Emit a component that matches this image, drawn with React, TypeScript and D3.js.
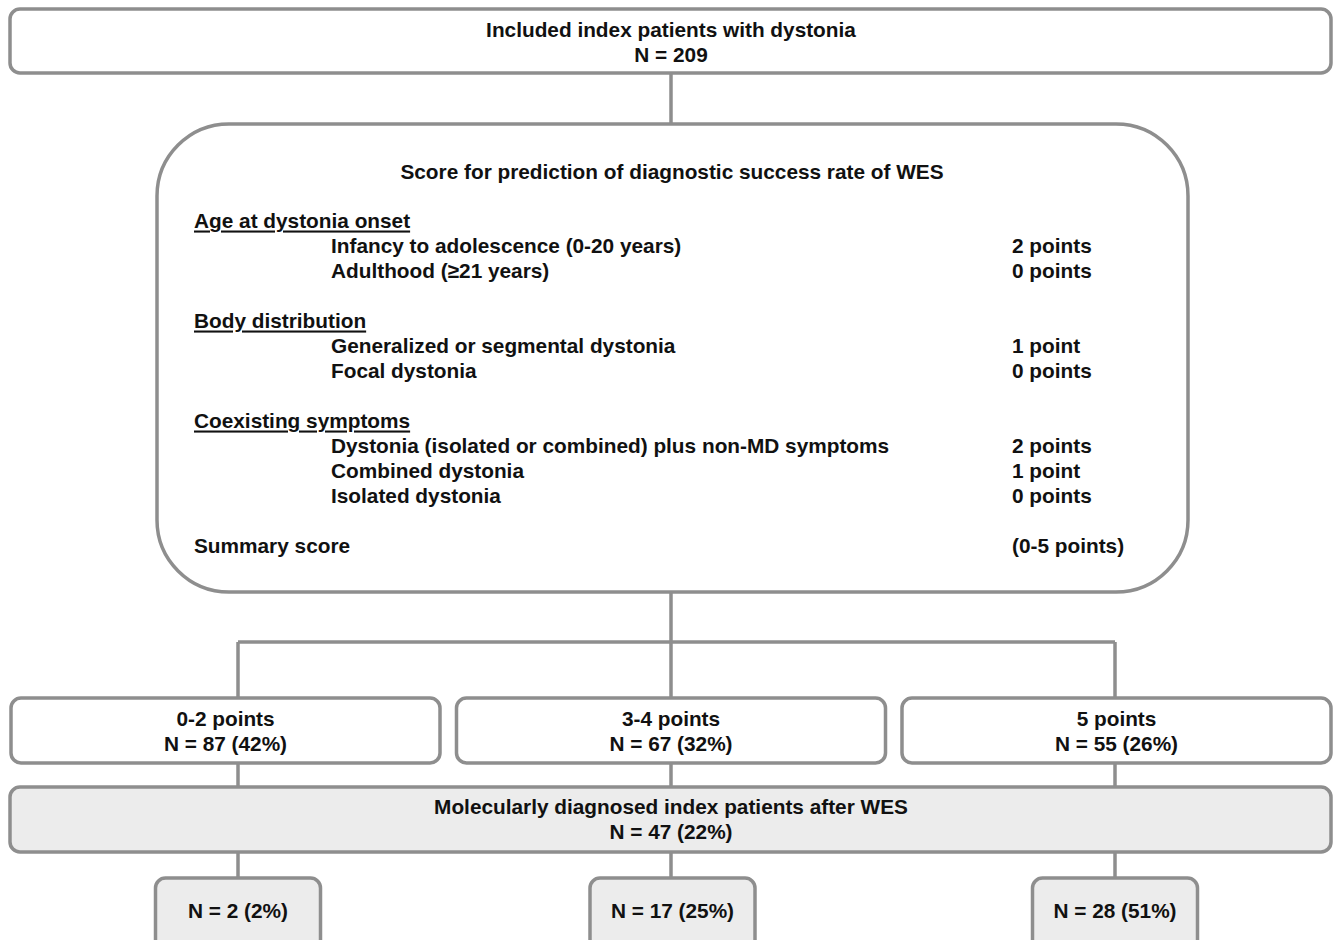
import * as d3 from 'd3';

// ---- content ----
const TOP_LINES = ['Included index patients with dystonia', 'N = 209'];
const SCORE_TITLE = 'Score for prediction of diagnostic success rate of WES';

const CRITERIA_HEADINGS = ['Age at dystonia onset', 'Body distribution', 'Coexisting symptoms'];
const CRITERIA_ITEMS: [string, string][][] = [
  [
    ['Infancy to adolescence (0-20 years)', '2 points'],
    ['Adulthood (≥21 years)', '0 points'],
  ],
  [
    ['Generalized or segmental dystonia', '1 point'],
    ['Focal dystonia', '0 points'],
  ],
  [
    ['Dystonia (isolated or combined) plus non-MD symptoms', '2 points'],
    ['Combined dystonia', '1 point'],
    ['Isolated dystonia', '0 points'],
  ],
];
const SUMMARY = ['Summary score', '(0-5 points)'];

const GROUP_LABELS = ['0-2 points', '3-4 points', '5 points'];
const GROUP_N = [87, 67, 55];
const GROUP_PCT = [42, 32, 26];

const DIAG_LINES = ['Molecularly diagnosed index patients after WES', 'N = 47 (22%)'];
const DIAG_N = [2, 17, 28];
const DIAG_PCT = [2, 25, 51];

// ---- styling ----
const W = 1337;
const H = 940;
const STROKE = '#8e8e8e';
const SW = 3.5;
const FONT = '"Liberation Sans", Arial, Helvetica, sans-serif';
const FS = 20.8;
const TXT = '#111';
const CX = 671;
// connector columns under the three group boxes
const LINK_X = [238, 671, 1115];

export default function App() {
  // group boxes laid out as bands
  const band = d3.scaleBand<number>().domain([0, 1, 2]).range([11, 1331]).paddingInner(0.037);

  // rows inside score box
  const row = d3.scaleLinear().domain([0, 1]).range([220, 245]);

  type Row = { text: string; pts?: string; kind: 'head' | 'item' | 'sum' };
  const rows: { r: Row; i: number }[] = [];
  let idx = 0;
  CRITERIA_HEADINGS.forEach((h, k) => {
    rows.push({ r: { text: h, kind: 'head' }, i: idx++ });
    CRITERIA_ITEMS[k].forEach(([t, p]) => rows.push({ r: { text: t, pts: p, kind: 'item' }, i: idx++ }));
    idx++;
  });
  rows.push({ r: { text: SUMMARY[0], pts: SUMMARY[1], kind: 'sum' }, i: idx });

  const smallW = 165;

  const boxProps = { fill: '#fff', stroke: STROKE, strokeWidth: SW };
  const textProps = {
    fontFamily: FONT,
    fontSize: FS,
    fontWeight: 700,
    fill: TXT,
    dominantBaseline: 'central' as const,
  };

  return (
    <svg
      width={W}
      height={H}
      viewBox={`0 0 ${W} ${H}`}
      style={{ position: 'absolute', left: 0, top: 0, background: '#fff' }}
    >
      {/* connectors */}
      <g stroke={STROKE} strokeWidth={SW} fill="none">
        <line x1={CX} x2={CX} y1={73} y2={124} />
        <line x1={CX} x2={CX} y1={592} y2={642} />
        <line x1={LINK_X[0]} x2={LINK_X[2]} y1={642} y2={642} />
        {LINK_X.map((x, g) => (
          <g key={g}>
            <line x1={x} x2={x} y1={642} y2={698} />
            <line x1={x} x2={x} y1={763} y2={787} />
            <line x1={x} x2={x} y1={852} y2={878} />
          </g>
        ))}
      </g>

      {/* top box */}
      <rect x={10} y={9} width={1321} height={64} rx={10} {...boxProps} />
      {TOP_LINES.map((t, i) => (
        <text key={t} x={CX} y={29 + i * 25} textAnchor="middle" {...textProps}>
          {t}
        </text>
      ))}

      {/* score box */}
      <rect x={157} y={124} width={1031} height={468} rx={72} {...boxProps} />
      <text x={CX + 1} y={171} textAnchor="middle" {...textProps}>
        {SCORE_TITLE}
      </text>
      {rows.map(({ r, i }) => (
        <g key={r.text}>
          <text
            x={r.kind === 'item' ? 331 : 194}
            y={row(i)}
            textDecoration={r.kind === 'head' ? 'underline' : undefined}
            {...textProps}
          >
            {r.text}
          </text>
          {r.pts && (
            <text x={1012} y={row(i)} {...textProps}>
              {r.pts}
            </text>
          )}
        </g>
      ))}

      {/* group boxes */}
      {GROUP_LABELS.map((l, g) => {
        const x0 = band(g)!;
        const cx = x0 + band.bandwidth() / 2;
        return (
          <g key={l}>
            <rect x={x0} y={698} width={band.bandwidth()} height={65} rx={10} {...boxProps} />
            <text x={cx} y={718} textAnchor="middle" {...textProps}>
              {l}
            </text>
            <text x={cx} y={743} textAnchor="middle" {...textProps}>
              {`N = ${GROUP_N[g]} (${GROUP_PCT[g]}%)`}
            </text>
          </g>
        );
      })}

      {/* diagnosed box */}
      <rect x={10} y={787} width={1321} height={65} rx={10} {...boxProps} fill="#ececec" />
      {DIAG_LINES.map((t, i) => (
        <text key={t} x={CX} y={806 + i * 25} textAnchor="middle" {...textProps}>
          {t}
        </text>
      ))}

      {/* diagnosed per group */}
      {DIAG_N.map((n, g) => {
        const cx = LINK_X[g] + (g === 1 ? 1.5 : 0);
        return (
          <g key={g}>
            <rect x={cx - smallW / 2} y={878} width={smallW} height={72} rx={10} {...boxProps} fill="#ececec" />
            <text x={cx} y={910} textAnchor="middle" {...textProps}>
              {`N = ${n} (${DIAG_PCT[g]}%)`}
            </text>
          </g>
        );
      })}
    </svg>
  );
}
